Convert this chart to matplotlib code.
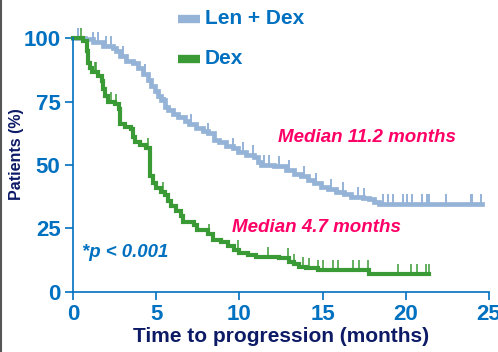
import numpy as np
import matplotlib
matplotlib.use("Agg")
import matplotlib.pyplot as plt
from matplotlib.lines import Line2D

plt.rcParams['font.family'] = ['Liberation Sans', 'DejaVu Sans']

BLUE_TXT = '#0070C0'
NAVY = '#0D1A66'
LEN_COLOR = '#95B3D7'
DEX_COLOR = '#3A9A35'
MEDIAN_COLOR = '#FF0066'

# Len + Dex step curve (months, % without progression)
len_t = [0, 0.7, 1.2, 1.8, 2.4, 2.6, 2.8, 3.2, 3.6, 3.9, 4.2, 4.5, 4.7, 4.9, 5.1,
         5.3, 5.5, 5.7, 6.0, 6.3, 6.7, 7.0, 7.4, 7.8, 8.1, 8.5, 8.8, 9.2, 9.6,
         9.9, 10.4, 10.9, 11.1, 11.3, 12.1, 12.8, 13.3, 13.7, 14.1, 14.5, 14.9,
         15.3, 15.8, 16.3, 16.7, 17.4, 17.8, 18.1, 18.4, 24.6]
len_s = [100, 99.5, 98.5, 97, 96, 95, 93, 91, 90, 88, 86, 83.5, 81, 79, 77,
         75.5, 73, 71.5, 70, 69, 67.5, 66, 64.5, 63.5, 62.5, 60, 59, 57.5, 56.5,
         55, 54, 53, 51, 50, 49.5, 48, 46.5, 45.5, 44, 43, 41.5,
         40.5, 39.5, 38.5, 37.5, 37, 36.5, 35.5, 34.8, 34.8]
len_cens = [0.3, 1.2, 1.5, 2.0, 2.3, 3.0, 4.3, 5.5, 7.1, 8.1, 9.6, 10.2, 10.8,
            11.5, 11.8, 12.4, 13.0, 13.9, 14.6, 15.5, 16.2, 17.1, 17.5, 18.6,
            18.9, 19.2, 19.8, 20.1, 20.4, 21.0, 21.3, 21.4, 22.4, 23.9, 24.0, 24.5]

# Dex step curve
dex_t = [0, 0.6, 0.85, 0.9, 1.0, 1.15, 1.5, 1.75, 1.8, 1.9, 2.1, 2.5, 2.75, 2.8,
         2.85, 3.1, 3.5, 3.6, 3.7, 4.0, 4.4, 4.6, 4.65, 4.8, 5.0, 5.3, 5.5, 5.7,
         5.9, 6.2, 6.5, 6.6, 7.3, 7.45, 8.1, 8.4, 8.9, 9.3, 9.7, 10.0, 10.5,
         11.0, 12.4, 12.95, 13.3, 13.6, 14.0, 14.7, 17.8, 21.4]
dex_s = [100, 99, 95, 90, 88, 86.5, 85, 83, 80, 77, 75, 74, 72, 68,
         66, 65, 64, 61, 59, 58, 56.5, 50, 45.5, 43, 41, 39.5, 38, 36,
         34, 32, 30, 27.5, 26.5, 24.5, 23, 20.5, 19.5, 18, 16.5, 15.3, 14.5,
         13.8, 13.4, 12, 11, 10, 9.4, 8.7, 7.1, 7.1]
dex_cens = [0.5, 1.3, 1.4, 2.3, 2.6, 3.6, 4.5, 5.4, 8.2, 9.9, 11.7, 12.9, 13.3,
            13.8, 14.2, 14.7, 15.0, 15.6, 15.9, 16.8, 17.2, 17.7, 19.5, 20.3,
            20.7, 21.2, 21.4]


def surv_at(t, s, times):
    idx = np.searchsorted(t, times, side='right') - 1
    return np.asarray(s)[idx]


fig = plt.figure(figsize=(4.98, 3.52), dpi=100)
ax = fig.add_axes([0.1466, 0.1705, 0.8354, 0.7215])

ax.step(len_t, len_s, where='post', color=LEN_COLOR, lw=3.4, clip_on=False,
        solid_joinstyle='miter')
ax.plot(len_cens, surv_at(len_t, len_s, len_cens), ls='none', marker=2,
        ms=7, mew=1.4, color=LEN_COLOR, clip_on=False)
ax.step(dex_t, dex_s, where='post', color=DEX_COLOR, lw=3.0, clip_on=False,
        solid_joinstyle='miter')
ax.plot(dex_cens, surv_at(dex_t, dex_s, dex_cens), ls='none', marker=2,
        ms=7, mew=1.1, color=DEX_COLOR, clip_on=False)

ax.set_xlim(0, 25)
ax.set_ylim(0, 100)
ax.set_xticks([0, 5, 10, 15, 20, 25])
ax.set_yticks([0, 25, 50, 75, 100])
for sp in ['top', 'right']:
    ax.spines[sp].set_visible(False)
for sp in ['left', 'bottom']:
    ax.spines[sp].set_color(BLUE_TXT)
    ax.spines[sp].set_linewidth(1.2)
ax.tick_params(colors=BLUE_TXT, labelcolor=BLUE_TXT, length=6, width=1.2,
               labelsize=16, direction='out')
for lab in ax.get_xticklabels() + ax.get_yticklabels():
    lab.set_fontweight('bold')
ax.tick_params(axis='x', pad=3)
ax.tick_params(axis='y', pad=3)

ax.set_xlabel('Time to progression (months)', fontsize=15, fontweight='bold',
              color=NAVY, labelpad=1)
# y label placed by hand, tight against the figure edge like the original
fig.text(17 / 498, 1 - 154 / 352, 'Patients (%)', fontsize=11.5,
         fontweight='bold', color=NAVY, rotation=90, ha='center', va='center')

# legend-like labels
fig.add_artist(Line2D([178 / 498, 200 / 498], [1 - 19 / 352] * 2,
                      color=LEN_COLOR, lw=6, solid_capstyle='butt'))
fig.text(205 / 498, 1 - 19 / 352, 'Len + Dex', fontsize=15, fontweight='bold',
         color=BLUE_TXT, va='center', ha='left')
fig.add_artist(Line2D([178 / 498, 200 / 498], [1 - 59 / 352] * 2,
                      color=DEX_COLOR, lw=6, solid_capstyle='butt'))
fig.text(205 / 498, 1 - 59 / 352, 'Dex', fontsize=15, fontweight='bold',
         color=BLUE_TXT, va='center', ha='left')

ax.text(12.3, 61, 'Median 11.2 months', fontsize=13.5, fontweight='bold',
        fontstyle='italic', color=MEDIAN_COLOR, va='center')
ax.text(9.55, 25.2, 'Median 4.7 months', fontsize=13.5, fontweight='bold',
        fontstyle='italic', color=MEDIAN_COLOR, va='center')
ax.text(0.55, 15.7, '*p < 0.001', fontsize=13.4, fontweight='bold',
        fontstyle='italic', color=BLUE_TXT, va='center')

fig.add_artist(Line2D([0.003, 0.003], [0, 1], color='#555555', lw=1.5))

fig.savefig('out.png', dpi=100)
